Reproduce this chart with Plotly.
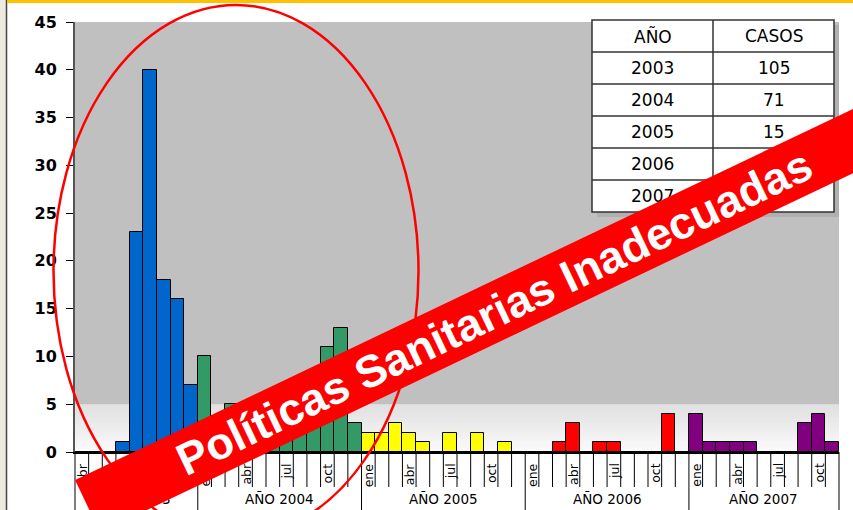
import plotly.graph_objects as go

# ---------------- data ----------------
month_names = ["ene", "feb", "mar", "abr", "may", "jun", "jul", "ago", "sep", "oct", "nov", "dic"]
years = [2003, 2004, 2005, 2006, 2007]
first_month = [3, 0, 0, 0, 0]          # 2003 starts in abril
cases_2003 = [0, 0, 0, 1, 23, 40, 18, 16, 7]                 # abr-dic
cases_2004 = [10, 3, 5, 2, 4, 5, 6, 5, 4, 11, 13, 3]          # ene-dic
cases_2005 = [2, 2, 3, 2, 1, 0, 2, 0, 2, 0, 1, 0]             # ene-dic
cases_2006 = [0, 0, 1, 3, 0, 1, 1, 0, 0, 0, 4, 0]             # ene-dic
cases_2007 = [4, 1, 1, 1, 1, 0, 0, 0, 3, 4, 1]                # ene-nov
year_colors = ["#0066CC", "#339966", "#FFFF00", "#FF0000", "#800080"]
labeled_months = ["ene", "abr", "jul", "oct"]
y_ticks = [0, 5, 10, 15, 20, 25, 30, 35, 40, 45]

table_header = ["AÑO", "CASOS"]
table_years = ["2003", "2004", "2005", "2006", "2007"]
table_cases = ["105", "71", "15", "10", "16"]

banner_text = "Políticas Sanitarias Inadecuadas"

# ---------------- build series ----------------
series = [cases_2003, cases_2004, cases_2005, cases_2006, cases_2007]
xs, ys, cols, mnames = [], [], [], []
year_start = []
idx = 0
for yr, fm, vals, col in zip(years, first_month, series, year_colors):
    year_start.append(idx)
    for k, v in enumerate(vals):
        xs.append(idx)
        ys.append(v)
        cols.append(col)
        mnames.append(month_names[fm + k])
        idx += 1
N = idx
year_end = year_start[1:] + [N]

# ---------------- geometry helpers (pixels -> paper) ----------------
W, H = 853, 510
L, R, T, B = 75, 14, 22, 58
PW, PH = W - L - R, H - T - B


def px(X):
    return (X - L) / PW


def py(Y):
    return (H - B - Y) / PH


fig = go.Figure()
fig.add_trace(go.Bar(
    x=xs, y=ys, width=1,
    marker=dict(color=cols, line=dict(color="#000000", width=1)),
    hoverinfo="skip",
))

shapes = []
# gradient band at bottom of plot area
n = 30
for k in range(n):
    t = k / (n - 1)
    c = int(round(250 - (250 - 224) * t))
    shapes.append(dict(type="rect", xref="paper", yref="y", x0=0, x1=1,
                       y0=5 * k / n, y1=min(5.0, 5 * (k + 1.6) / n), layer="below",
                       line=dict(width=0), fillcolor=f"rgb({c},{c},{c})"))

# month cell boundaries and year boundaries under the axis
year_bounds = set(year_start + [N])
for i in range(N + 1):
    bottom = 512 if i in year_bounds else 487
    shapes.append(dict(type="line", xref="paper", yref="paper",
                       x0=i / N, x1=i / N, y0=0, y1=py(bottom),
                       line=dict(color="#000000", width=1)))

# red ellipse
shapes.append(dict(type="circle", xref="paper", yref="paper",
                   x0=px(53.5), x1=px(418.5), y0=py(537), y1=py(5),
                   line=dict(color="#FF0000", width=2.5)))

# table
tx0, txm, tx1 = 592, 713, 834
row_edges = [20, 52, 84, 116, 148, 180, 212]
shapes.append(dict(type="rect", xref="paper", yref="paper",
                   x0=px(tx0 + 5), x1=px(tx1 + 5), y0=py(row_edges[-1] + 5), y1=py(row_edges[0] + 5),
                   line=dict(width=0), fillcolor="#B0B0B0"))
shapes.append(dict(type="rect", xref="paper", yref="paper",
                   x0=px(tx0), x1=px(tx1), y0=py(row_edges[-1]), y1=py(row_edges[0]),
                   line=dict(color="#333333", width=1.5), fillcolor="#FFFFFF"))
for ye in row_edges[1:-1]:
    shapes.append(dict(type="line", xref="paper", yref="paper",
                       x0=px(tx0), x1=px(tx1), y0=py(ye), y1=py(ye),
                       line=dict(color="#333333", width=1.5)))
shapes.append(dict(type="line", xref="paper", yref="paper",
                   x0=px(txm), x1=px(txm), y0=py(row_edges[0]), y1=py(row_edges[-1]),
                   line=dict(color="#333333", width=1.5)))

# page decorations
shapes.append(dict(type="rect", xref="paper", yref="paper",
                   x0=px(0), x1=px(6), y0=py(H), y1=py(0),
                   line=dict(width=0), fillcolor="#EFEADF"))
shapes.append(dict(type="line", xref="paper", yref="paper",
                   x0=px(6.5), x1=px(6.5), y0=py(H), y1=py(0),
                   line=dict(color="#444444", width=1.5)))
shapes.append(dict(type="rect", xref="paper", yref="paper",
                   x0=px(7), x1=px(W), y0=py(3), y1=py(0),
                   line=dict(width=0), fillcolor="#FFC000"))

annotations = []
# month labels
for x, m in zip(xs, mnames):
    if m in labeled_months:
        annotations.append(dict(x=x, y=py(461), xref="x", yref="paper",
                                text=m, showarrow=False, textangle=-90,
                                xanchor="center", yanchor="top",
                                font=dict(family="DejaVu Sans", size=12.5, color="#000000")))
# year labels
for yr, s, e in zip(years, year_start, year_end):
    annotations.append(dict(x=(s + e) / 2 / N, y=py(499), xref="paper", yref="paper",
                            text=f"AÑO {yr}", showarrow=False,
                            xanchor="center", yanchor="middle",
                            font=dict(family="DejaVu Sans", size=13.5, color="#000000")))
# table text
col_centers = [(tx0 + txm) / 2, (txm + tx1) / 2]
rows = [table_header] + [[a, b] for a, b in zip(table_years, table_cases)]
for r, row in enumerate(rows):
    yc = (row_edges[r] + row_edges[r + 1]) / 2
    for cx, txt in zip(col_centers, row):
        annotations.append(dict(x=px(cx), y=py(yc), xref="paper", yref="paper",
                                text=txt, showarrow=False,
                                xanchor="center", yanchor="middle",
                                font=dict(family="DejaVu Sans", size=17, color="#000000")))
# banner (drawn last, on top of everything)
annotations.append(dict(x=px(493.5), y=py(312), xref="paper", yref="paper",
                        text=banner_text, showarrow=False, textangle=-25.5,
                        width=900, height=57, borderpad=0, bgcolor="#FF0000",
                        xanchor="center", yanchor="middle", align="center", valign="middle",
                        font=dict(family="Liberation Sans", size=45, color="#FFFFFF", weight="bold")))

fig.update_layout(
    width=W, height=H,
    margin=dict(l=L, r=R, t=T, b=B, pad=0),
    paper_bgcolor="#FFFFFF",
    plot_bgcolor="#C0C0C0",
    showlegend=False,
    bargap=0,
    xaxis=dict(range=[-0.5, N - 0.5], showticklabels=False, ticks="",
               showgrid=False, zeroline=False, showline=True,
               linecolor="#000000", linewidth=1.5, fixedrange=True),
    yaxis=dict(range=[0, 45], tickvals=y_ticks, ticks="outside", ticklen=7,
               tickcolor="#000000", tickwidth=1, showgrid=False, zeroline=False,
               showline=True, linecolor="#555555", linewidth=2,
               ticklabelstandoff=6,
               tickfont=dict(family="DejaVu Sans", size=16, color="#000000", weight="bold"),
               fixedrange=True),
    shapes=shapes,
    annotations=annotations,
)

fig.write_html("out.html", config={"displayModeBar": False},
               post_script="document.body.style.margin='0';document.body.style.padding='0';")
